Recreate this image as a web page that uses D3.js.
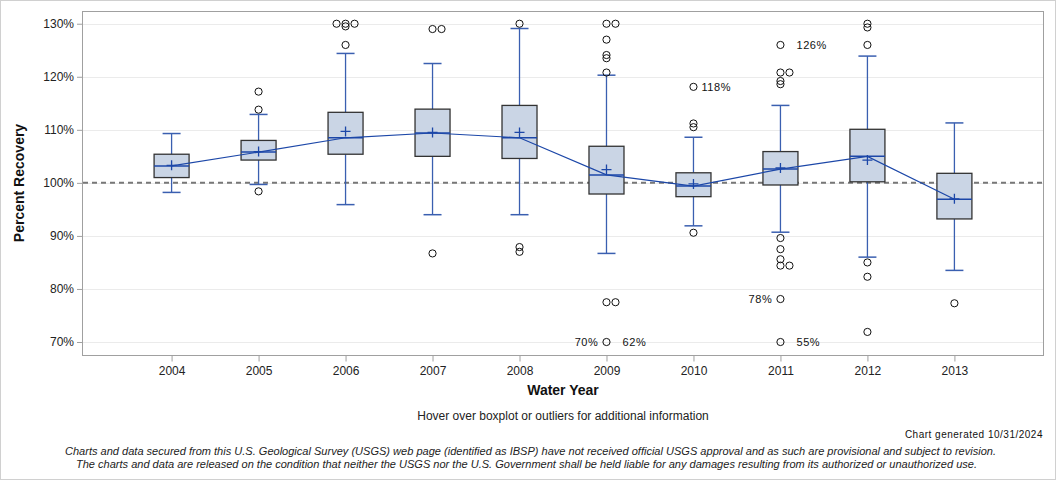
<!DOCTYPE html>
<html>
<head>
<meta charset="utf-8">
<script src="https://cdn.jsdelivr.net/npm/d3@7"></script>
<style>
  body { margin: 0; background: #fff; }
  svg text { font-family: "Liberation Sans", Arial, sans-serif; }
</style>
</head>
<body>
<svg id="chart" width="1056" height="480"></svg>
<script>
// ---- data ----
const years = ["2004","2005","2006","2007","2008","2009","2010","2011","2012","2013"];
const whiskerLow  = [98.2, 99.7, 95.9, 94.0, 94.0, 86.7, 91.9, 90.7, 86.0, 83.5];
const q1          = [101.0, 104.3, 105.4, 105.0, 104.6, 97.9, 97.4, 99.6, 100.2, 93.2];
const median      = [103.2, 105.8, 108.5, 109.4, 108.5, 101.5, 99.4, 102.6, 105.0, 96.9];
const q3          = [105.4, 108.0, 113.3, 113.9, 114.6, 106.9, 101.9, 105.9, 110.1, 101.8];
const whiskerHigh = [109.3, 112.9, 124.4, 122.5, 129.1, 120.3, 108.6, 114.6, 123.9, 111.3];
const means       = [103.3, 105.9, 109.7, 109.5, 109.5, 102.5, 99.8, 102.8, 104.3, 97.0];
const outliers = [
  [],
  [117.2, 113.8, 98.4],
  [130, 130, 130, 129.5, 126.0],
  [129.0, 129.0, 86.7],
  [130, 87.9, 87.0],
  [130, 130, 127.0, 124.1, 123.5, 120.8, 77.5, 77.5, 70],
  [118.1, 111.2, 110.5, 90.6],
  [126.0, 120.8, 120.8, 119.2, 118.6, 89.6, 87.5, 85.6, 84.4, 84.4, 78.1, 70],
  [130, 129.3, 126.0, 85.0, 82.3, 71.9],
  [77.3]
];
const labelYears  = ["2009", "2009", "2010", "2011", "2011", "2011"];
const labelValues = [70, 70, 118.1, 126.0, 78.1, 70];
const labelTexts  = ["70%", "62%", "118%", "126%", "78%", "55%"];
const labelSides  = ["left", "rightFar", "right", "rightFar", "left", "rightFar"];
const yTicks = [70, 80, 90, 100, 110, 120, 130];
const referenceValue = 100;

// ---- layout ----
const svg = d3.select("#chart");
const W = 1056, H = 480;
const plot = { left: 82, top: 11, right: 1044, bottom: 355 };

svg.append("rect").attr("x", 0.5).attr("y", 0.5).attr("width", W - 1).attr("height", H - 1)
  .attr("fill", "#fff").attr("stroke", "#d0d0d0");

const x = d3.scalePoint().domain(years).range([plot.left, plot.right]).padding(1.03);
const y = d3.scaleLinear().domain([67.55, 132.4]).range([plot.bottom, plot.top]);

// gridlines
svg.append("g").selectAll("line").data(yTicks).join("line")
  .attr("x1", plot.left).attr("x2", plot.right)
  .attr("y1", d => Math.round(y(d)) + 0.5).attr("y2", d => Math.round(y(d)) + 0.5)
  .attr("stroke", "#ebebeb").attr("stroke-width", 1);

// frame
svg.append("rect").attr("x", plot.left + 0.5).attr("y", plot.top + 0.5)
  .attr("width", plot.right - plot.left - 1).attr("height", plot.bottom - plot.top)
  .attr("fill", "none").attr("stroke", "#a0a0a0");

// axes
const yAxis = d3.axisLeft(y).tickValues(yTicks).tickFormat(d => d + "%").tickSize(5).tickPadding(3);
const gy = svg.append("g").attr("transform", `translate(${plot.left},0)`).call(yAxis);
gy.select(".domain").remove();
gy.selectAll(".tick line").attr("stroke", "#a0a0a0");
gy.selectAll(".tick text").attr("font-size", 12).attr("fill", "#222").style("font-family", "Liberation Sans, Arial, sans-serif");

const xAxis = d3.axisBottom(x).tickSize(6).tickPadding(5);
const gx = svg.append("g").attr("transform", `translate(0,${plot.bottom + 0.5})`).call(xAxis);
gx.select(".domain").remove();
gx.selectAll(".tick line").attr("stroke", "#a0a0a0");
gx.selectAll(".tick text").attr("font-size", 12).attr("fill", "#222").style("font-family", "Liberation Sans, Arial, sans-serif");

// reference line
svg.append("line").attr("x1", plot.left + 1).attr("x2", plot.right - 1)
  .attr("y1", y(referenceValue)).attr("y2", y(referenceValue))
  .attr("stroke", "#777").attr("stroke-width", 2).attr("stroke-dasharray", "5,4");

const boxW = 35, capW = 18;
const whiskColor = "#3a5fb0", boxFill = "#cad5e5", lineColor = "#1c47a8";

const g = svg.append("g");
years.forEach((yr, i) => {
  const cx = x(yr);
  g.append("line").attr("x1", cx).attr("x2", cx).attr("y1", y(q3[i])).attr("y2", y(whiskerHigh[i]))
    .attr("stroke", whiskColor).attr("stroke-width", 1.3);
  g.append("line").attr("x1", cx).attr("x2", cx).attr("y1", y(q1[i])).attr("y2", y(whiskerLow[i]))
    .attr("stroke", whiskColor).attr("stroke-width", 1.3);
  [whiskerHigh[i], whiskerLow[i]].forEach(v => {
    g.append("line").attr("x1", cx - capW / 2).attr("x2", cx + capW / 2)
      .attr("y1", y(v)).attr("y2", y(v)).attr("stroke", whiskColor).attr("stroke-width", 1.5);
  });
  g.append("rect").attr("x", cx - boxW / 2).attr("y", y(q3[i]))
    .attr("width", boxW).attr("height", y(q1[i]) - y(q3[i]))
    .attr("fill", boxFill).attr("stroke", "#333").attr("stroke-width", 1.3);
  g.append("line").attr("x1", cx - boxW / 2).attr("x2", cx + boxW / 2)
    .attr("y1", y(median[i])).attr("y2", y(median[i]))
    .attr("stroke", lineColor).attr("stroke-width", 1.5);
  g.append("path").attr("d", `M${cx - 5},${y(means[i])}H${cx + 5}M${cx},${y(means[i]) - 5}V${y(means[i]) + 5}`)
    .attr("stroke", lineColor).attr("stroke-width", 1.3).attr("fill", "none");
});

// median connecting line
svg.append("path")
  .datum(years.map((yr, i) => [x(yr), y(median[i])]))
  .attr("d", d3.line())
  .attr("fill", "none").attr("stroke", lineColor).attr("stroke-width", 1.2);

// outliers (duplicates offset horizontally)
const og = svg.append("g");
years.forEach((yr, i) => {
  const seen = [];
  const offsets = [0, 9, -9, 18, -18];
  outliers[i].forEach(v => {
    const k = seen.filter(s => Math.abs(s - v) < 0.05).length;
    seen.push(v);
    og.append("circle").attr("cx", x(yr) + offsets[k % offsets.length]).attr("cy", y(v))
      .attr("r", 3.6).attr("fill", "none").attr("stroke", "#111").attr("stroke-width", 1);
  });
});

// outlier labels
const sideOffset = { left: -8, right: 8, rightFar: 16 };
const lg = svg.append("g");
labelTexts.forEach((t, i) => {
  const cx = x(labelYears[i]);
  const left = labelSides[i] === "left";
  lg.append("text").attr("x", cx + sideOffset[labelSides[i]]).attr("y", y(labelValues[i]) + 4)
    .attr("text-anchor", left ? "end" : "start")
    .attr("font-size", 11).attr("letter-spacing", 0.6).attr("fill", "#111").text(t);
});

// axis titles
svg.append("text").attr("transform", `translate(24,${(plot.top + plot.bottom) / 2}) rotate(-90)`)
  .attr("text-anchor", "middle").attr("font-size", 14).attr("font-weight", "bold").attr("fill", "#111")
  .text("Percent Recovery");
svg.append("text").attr("x", (plot.left + plot.right) / 2).attr("y", 395)
  .attr("text-anchor", "middle").attr("font-size", 14).attr("font-weight", "bold").attr("fill", "#111")
  .text("Water Year");
svg.append("text").attr("x", (plot.left + plot.right) / 2).attr("y", 420)
  .attr("text-anchor", "middle").attr("font-size", 12).attr("fill", "#222")
  .text("Hover over boxplot or outliers for additional information");
svg.append("text").attr("x", 1043).attr("y", 438)
  .attr("text-anchor", "end").attr("font-size", 10).attr("letter-spacing", 0.5).attr("fill", "#111")
  .text("Chart generated 10/31/2024");
svg.append("text").attr("x", 65).attr("y", 455)
  .attr("font-size", 11.5).attr("font-style", "italic").attr("fill", "#222")
  .attr("textLength", 931).attr("lengthAdjust", "spacingAndGlyphs")
  .text("Charts and data secured from this U.S. Geological Survey (USGS) web page (identified as IBSP) have not received official USGS approval and as such are provisional and subject to revision.");
svg.append("text").attr("x", 76).attr("y", 468)
  .attr("font-size", 11.5).attr("font-style", "italic").attr("fill", "#222")
  .attr("textLength", 901).attr("lengthAdjust", "spacingAndGlyphs")
  .text("The charts and data are released on the condition that neither the USGS nor the U.S. Government shall be held liable for any damages resulting from its authorized or unauthorized use.");
</script>
</body>
</html>
